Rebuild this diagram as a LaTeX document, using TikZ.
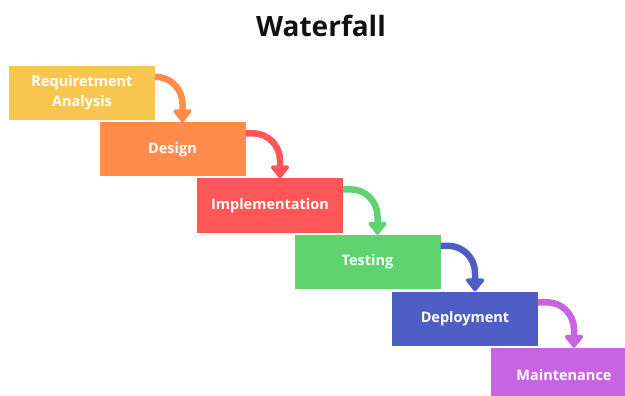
\documentclass[tikz,border=0pt]{standalone}
\usepackage{fontspec}
\setmainfont{Open Sans}
\usetikzlibrary{arrows.meta}
\definecolor{cA}{RGB}{248,198,78}
\definecolor{cB}{RGB}{255,140,74}
\definecolor{cC}{RGB}{255,87,87}
\definecolor{cD}{RGB}{96,211,110}
\definecolor{cE}{RGB}{78,94,196}
\definecolor{cF}{RGB}{200,100,225}
\definecolor{ttl}{RGB}{17,17,17}
\tikzset{
  stagebox/.style={fill=#1, draw=none, minimum width=146pt, minimum height=54pt, inner sep=0pt,
    text=white, align=center, font=\bfseries\fontsize{14.5}{20}\selectfont},
  flowarr/.style={draw=#1, line width=6.5pt, rounded corners=27pt,
    -{Triangle[length=14pt,width=21pt,round=false]}},
}
\begin{document}
\begin{tikzpicture}[x=1pt,y=-1pt]
\useasboundingbox (0,0) rectangle (625,396);
\begin{scope}
\clip (0,0) rectangle (625,396);
\node[font=\bfseries\fontsize{28}{32}\selectfont, text=ttl] (title) at (321,26) {Waterfall};
\node[stagebox=cA] (s1) at (82,93) {Requiretment\\Analysis};
\node[stagebox=cB] (s2) at (172.5,149.5) {Design};
\node[stagebox=cC] (s3) at (270,205.5) {Implementation};
\node[stagebox=cD] (s4) at (367.5,262) {Testing};
\node[stagebox=cE] (s5) at (465,318.5) {Deployment};
\node[stagebox=cF] (s6) at (564,375) {Maintenance};
\draw[flowarr=cB] ([yshift=-11pt]s1.north east) -| ([xshift=10pt]s2.north);
\draw[flowarr=cC] ([yshift=-11pt]s2.north east) -| ([xshift=10pt]s3.north);
\draw[flowarr=cD] ([yshift=-11pt]s3.north east) -| ([xshift=10pt]s4.north);
\draw[flowarr=cE] ([yshift=-11pt]s4.north east) -| ([xshift=10pt]s5.north);
\draw[flowarr=cF] ([yshift=-11pt]s5.north east) -| ([xshift=10pt]s6.north);
\end{scope}
\end{tikzpicture}
\end{document}
